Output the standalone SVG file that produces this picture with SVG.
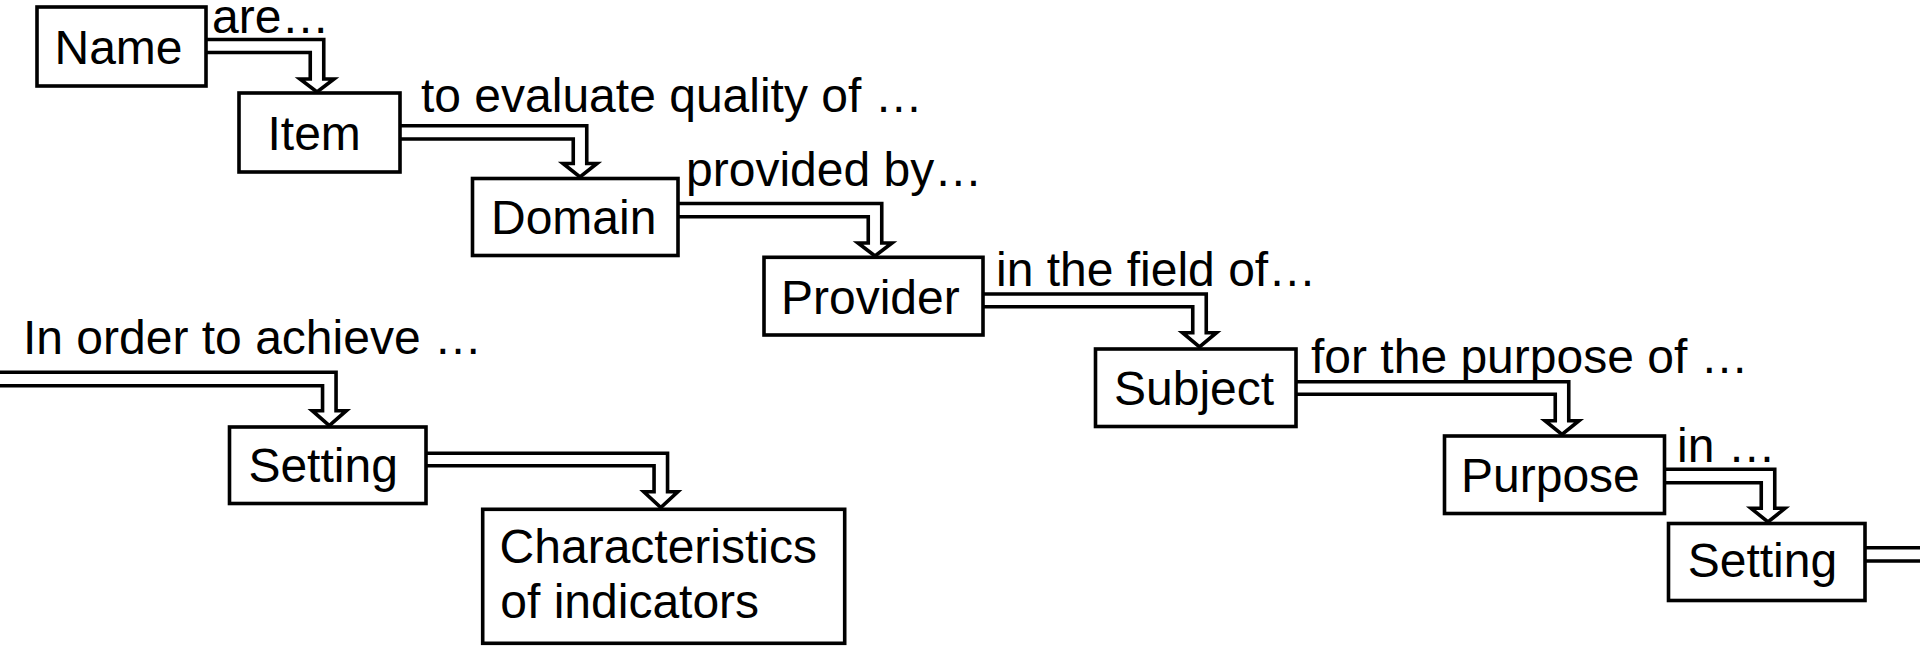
<svg xmlns="http://www.w3.org/2000/svg" width="1920" height="646" viewBox="0 0 1920 646">
<style>
.box{fill:#fff;stroke:#000;stroke-width:3.6}
.con{fill:none;stroke:#000;stroke-width:3.6;stroke-linejoin:miter;stroke-miterlimit:10}
.t{font-family:"Liberation Sans",Arial,sans-serif;font-size:48px;fill:#000}
</style>
<rect width="1920" height="646" fill="#fff"/>
<g id="connectors">
<path class="con" d="M206,39.5 H323.75 V79 H334 L317,92 L300,79 H310.25 V52.5 H206"/>
<path class="con" d="M400,125.7 H586.75 V163.5 H597 L580,177 L563,163.5 H573.25 V139 H400"/>
<path class="con" d="M678,203.5 H881.75 V243 H892 L875,256 L858,243 H868.25 V216.7 H678"/>
<path class="con" d="M983,294 H1206.25 V332.7 H1216.5 L1199.5,347 L1182.5,332.7 H1192.75 V306.7 H983"/>
<path class="con" d="M1296,381.7 H1568.75 V420.7 H1579 L1562,434.5 L1545,420.7 H1555.25 V394.3 H1296"/>
<path class="con" d="M1665,469.3 H1774.75 V508.3 H1785 L1768,522 L1751,508.3 H1761.25 V482.7 H1665"/>
<path class="con" d="M-10,372.3 H336.05 V410.7 H346.3 L329.3,425.5 L312.3,410.7 H322.55 V385.7 H-10"/>
<path class="con" d="M426,453.3 H667.55 V491.7 H677.8 L660.8,507.5 L643.8,491.7 H654.05 V465.7 H426"/>
<path class="con" d="M1865,547.7 H1930 M1865,561 H1930"/>
</g>
<g id="labels">
<text class="t" x="212" y="33">are…</text>
<text class="t" x="421" y="112">to evaluate quality of …</text>
<text class="t" x="686" y="186">provided by…</text>
<text class="t" x="996" y="286">in the field of…</text>
<text class="t" x="1311" y="373">for the purpose of …</text>
<text class="t" x="1677" y="462">in …</text>
<text class="t" x="23" y="353.5">In order to achieve …</text>
</g>
<g id="node-name"><rect class="box" x="37" y="7" width="169" height="79"/><text class="t" x="54.5" y="64">Name</text></g>
<g id="node-item"><rect class="box" x="239" y="93" width="161" height="79"/><text class="t" x="267.5" y="150">Item</text></g>
<g id="node-domain"><rect class="box" x="472.5" y="178.5" width="205.5" height="77"/><text class="t" x="491" y="234">Domain</text></g>
<g id="node-provider"><rect class="box" x="764" y="257.3" width="219" height="77.7"/><text class="t" x="781" y="313.5">Provider</text></g>
<g id="node-subject"><rect class="box" x="1095.5" y="349" width="200.5" height="77.5"/><text class="t" x="1114" y="405">Subject</text></g>
<g id="node-purpose"><rect class="box" x="1444.5" y="436" width="220" height="77.5"/><text class="t" x="1461" y="492.3">Purpose</text></g>
<g id="node-setting-2"><rect class="box" x="1668.5" y="523.5" width="196.5" height="77"/><text class="t" x="1687.7" y="577">Setting</text></g>
<g id="node-setting-1"><rect class="box" x="229.5" y="427" width="196.5" height="76.5"/><text class="t" x="248.4" y="482">Setting</text></g>
<g id="node-characteristics"><rect class="box" x="482.7" y="509.3" width="362" height="134"/><text class="t" x="499.6" y="563.3">Characteristics</text><text class="t" x="500.3" y="618.3">of indicators</text></g>
</svg>
